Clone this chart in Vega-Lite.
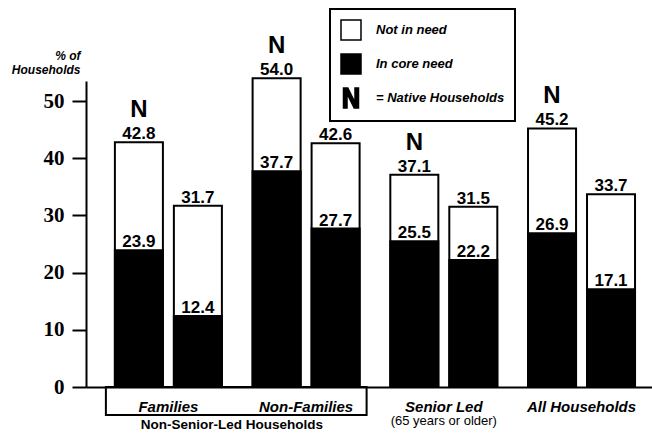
{
  "$schema": "https://vega.github.io/schema/vega-lite/v6.json",
  "autosize": {"type": "none"},
  "padding": {"left": 86, "top": 81, "right": 0, "bottom": 49},
  "width": 566,
  "height": 306,
  "config": {"view": {"stroke": null}, "font": "Liberation Sans"},
  "data": {"values": [
    {"group": "Families", "hh": "Native", "total": 42.8, "core": 23.9},
    {"group": "Families", "hh": "Non-Native", "total": 31.7, "core": 12.4},
    {"group": "Non-Families", "hh": "Native", "total": 54.0, "core": 37.7},
    {"group": "Non-Families", "hh": "Non-Native", "total": 42.6, "core": 27.7},
    {"group": "Senior Led", "hh": "Native", "total": 37.1, "core": 25.5},
    {"group": "Senior Led", "hh": "Non-Native", "total": 31.5, "core": 22.2},
    {"group": "All Households", "hh": "Native", "total": 45.2, "core": 26.9},
    {"group": "All Households", "hh": "Non-Native", "total": 33.7, "core": 17.1}
  ]},
  "encoding": {
    "x": {
      "field": "group", "type": "nominal",
      "scale": {"domain": ["Families", "Non-Families", "Senior Led", "All Households"], "paddingInner": 0.223, "paddingOuter": 0.1665, "align": 0.63},
      "axis": {"title": null, "ticks": false, "domainWidth": 2, "domainColor": "black", "labelAngle": 0, "labelFont": "Liberation Sans", "labelFontStyle": "italic", "labelFontWeight": "bold", "labelFontSize": 15, "labelPadding": 12, "labelColor": "black"}
    },
    "xOffset": {"field": "hh", "type": "nominal", "scale": {"domain": ["Native", "Non-Native"], "paddingInner": 0.186, "paddingOuter": 0}}
  },
  "layer": [
    {
      "mark": {"type": "bar", "fill": "white", "stroke": "black", "strokeWidth": 2},
      "encoding": {
        "y": {
          "field": "total", "type": "quantitative",
          "scale": {"domain": [0, 53.5], "nice": false},
          "axis": {
            "values": [0, 10, 20, 30, 40, 50], "grid": false, "tickSize": 14, "tickWidth": 2, "tickColor": "black",
            "domainWidth": 2, "domainColor": "black",
            "labelFont": "Liberation Sans Narrow", "labelFontSize": 21, "labelFontWeight": "bold", "labelColor": "black", "labelPadding": 8,
            "title": ["% of", "Households"], "titleAngle": 0, "titleAlign": "right", "titleBaseline": "alphabetic",
            "titleX": -6, "titleY": -22, "titleFont": "Liberation Sans", "titleFontStyle": "italic", "titleFontWeight": "bold", "titleFontSize": 12, "titleLineHeight": 14, "titleColor": "black"
          }
        }
      }
    },
    {
      "mark": {"type": "bar", "fill": "black", "stroke": "black", "strokeWidth": 2},
      "encoding": {"y": {"field": "core", "type": "quantitative"}}
    },
    {
      "mark": {"type": "text", "baseline": "alphabetic", "dy": -3, "fontSize": 17, "fontWeight": "bold", "color": "black"},
      "encoding": {"y": {"field": "total", "type": "quantitative"}, "text": {"field": "total", "type": "quantitative", "format": ".1f"}}
    },
    {
      "mark": {"type": "text", "baseline": "alphabetic", "dy": -3, "fontSize": 17, "fontWeight": "bold", "color": "black"},
      "encoding": {"y": {"field": "core", "type": "quantitative"}, "text": {"field": "core", "type": "quantitative", "format": ".1f"}}
    },
    {
      "transform": [{"filter": "datum.hh === 'Native'"}],
      "mark": {"type": "text", "baseline": "alphabetic", "dy": -25, "fontSize": 24, "fontWeight": "bold", "color": "black"},
      "encoding": {"y": {"field": "total", "type": "quantitative"}, "text": {"value": "N"}}
    },
    {
      "data": {"values": [{"label": "Non-Senior-Led Households"}]},
      "mark": {"type": "rect", "fill": "transparent", "stroke": "black", "strokeWidth": 2, "xOffset": -9, "x2Offset": 7},
      "encoding": {
        "x": {"datum": "Families", "type": "nominal", "bandPosition": 0},
        "x2": {"datum": "Non-Families", "bandPosition": 1},
        "xOffset": null,
        "y": {"datum": 0, "type": "quantitative"},
        "y2": {"datum": -4.9}
      }
    },
    {
      "data": {"values": [{"label": "Non-Senior-Led Households"}]},
      "mark": {"type": "text", "baseline": "middle", "dx": 10, "dy": 38, "fontSize": 13.5, "fontWeight": "bold", "color": "black"},
      "encoding": {
        "x": {"datum": "Families", "type": "nominal", "bandPosition": 1},
        "xOffset": null,
        "y": {"datum": 0, "type": "quantitative"},
        "text": {"field": "label", "type": "nominal"}
      }
    },
    {
      "data": {"values": [{"label": "(65 years or older)"}]},
      "mark": {"type": "text", "baseline": "middle", "dy": 34, "fontSize": 13, "color": "black"},
      "encoding": {
        "x": {"datum": "Senior Led", "type": "nominal"},
        "xOffset": null,
        "y": {"datum": 0, "type": "quantitative"},
        "text": {"field": "label", "type": "nominal"}
      }
    },
    {
      "data": {"values": [{"k": "Not in need"}, {"k": "In core need"}, {"k": "= Native Households"}]},
      "transform": [{"filter": "false"}],
      "mark": {"type": "point", "filled": true},
      "encoding": {
        "x": null,
        "xOffset": null,
        "fill": {
          "field": "k", "type": "nominal",
          "scale": {"domain": ["Not in need", "In core need", "= Native Households"], "range": ["white", "black", "black"]},
          "legend": {"title": null, "orient": "none", "legendX": 244, "legendY": -72, "padding": 10, "rowPadding": 8, "symbolSize": 400, "symbolStrokeColor": "black", "symbolStrokeWidth": 1.5, "symbolOpacity": 1, "labelFont": "Liberation Sans", "labelFontStyle": "italic", "labelFontWeight": "bold", "labelFontSize": 13, "labelOffset": 14, "labelColor": "black", "fillColor": "white", "strokeColor": "black", "labelLimit": 300, "encode": {"legend": {"update": {"strokeWidth": {"value": 2}}}}}
        },
        "shape": {
          "field": "k", "type": "nominal",
          "scale": {"domain": ["Not in need", "In core need", "= Native Households"], "range": ["square", "square", "M-0.75,1V-1H-0.32L0.4,0.45V-1H0.75V1H0.32L-0.4,-0.45V1Z"]},
          "legend": {"title": null, "orient": "none", "legendX": 244, "legendY": -72}
        }
      }
    }
  ]
}
